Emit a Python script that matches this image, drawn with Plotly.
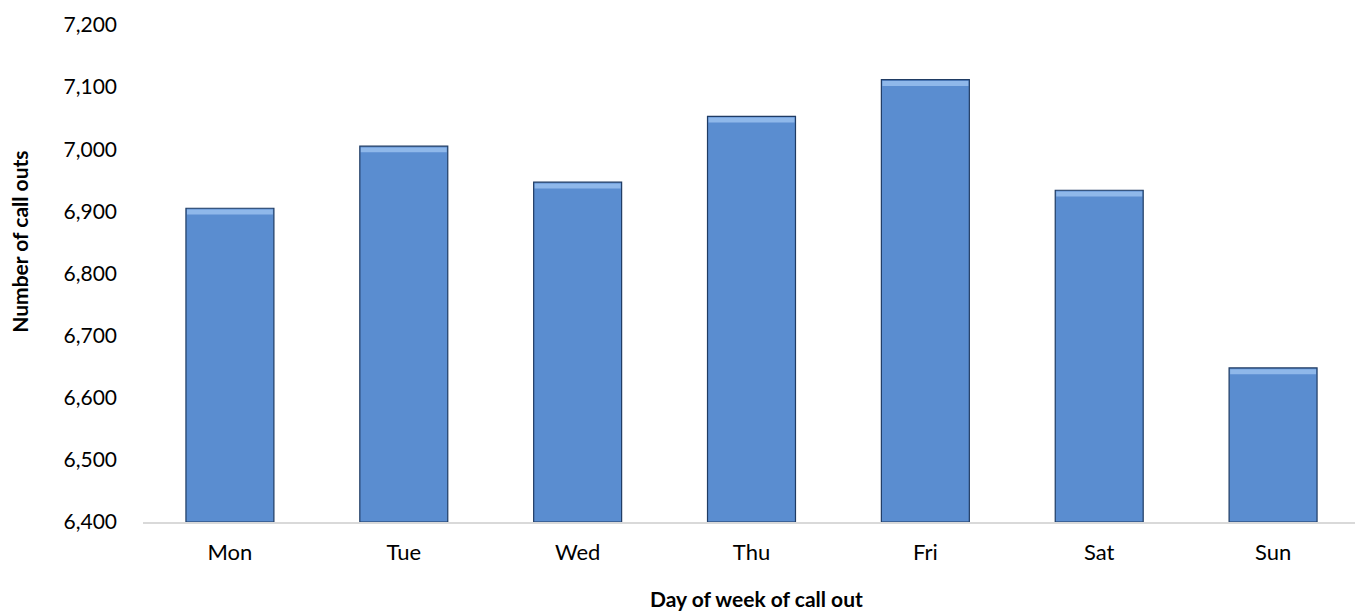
import plotly.graph_objects as go

# data
days = ["Mon", "Tue", "Wed", "Thu", "Fri", "Sat", "Sun"]
call_outs = [6905, 7005, 6947, 7053, 7112, 6934, 6648]
y_ticks = [6400, 6500, 6600, 6700, 6800, 6900, 7000, 7100, 7200]

FONT = "Lato"
bar_w = 0.506

fig = go.Figure()
fig.add_trace(go.Bar(
    x=days, y=[v - 6400 for v in call_outs], base=6400, width=bar_w,
    marker=dict(color="#5a8dd0", line=dict(color="#1f3b63", width=1.2)),
    hoverinfo="x+y", showlegend=False))
# lighter bevel strip just under the top edge of each bar
fig.add_trace(go.Bar(
    x=days, y=[8] * len(days), base=[v - 10 for v in call_outs], width=bar_w - 0.012,
    marker=dict(color="#8fb8ea", line=dict(width=0)),
    hoverinfo="skip", showlegend=False))

# the page body adds an 8px offset, so the figure is drawn 8px smaller
fig.update_layout(
    barmode="overlay",
    width=1355, height=604,
    margin=dict(l=135, r=3, t=14, b=90),
    plot_bgcolor="white", paper_bgcolor="white",
    font=dict(family=FONT, color="#000000"),
)
fig.update_xaxes(
    showgrid=False, zeroline=False,
    showline=True, linecolor="#d9d9d9", linewidth=2,
    ticks="", ticklabelstandoff=10,
    tickfont=dict(family=FONT, size=22, color="#000000"),
)
fig.update_yaxes(
    range=[6400, 7200], tickvals=y_ticks, tickformat=",",
    showgrid=False, zeroline=False, showline=False,
    ticks="", ticklabelstandoff=25,
    tickfont=dict(family=FONT, size=21, color="#000000"),
)

fig.add_annotation(text="<b>Number of call outs</b>", xref="paper", yref="paper",
                   x=-0.101, y=0.564, xanchor="center", yanchor="middle",
                   textangle=-90, showarrow=False,
                   font=dict(family=FONT, size=21, color="#000000"))
fig.add_annotation(text="<b>Day of week of call out</b>", xref="paper", yref="paper",
                   x=0.5045, y=-0.154, xanchor="center", yanchor="middle",
                   showarrow=False,
                   font=dict(family=FONT, size=21, color="#000000"))

fig.write_html("out.html")
